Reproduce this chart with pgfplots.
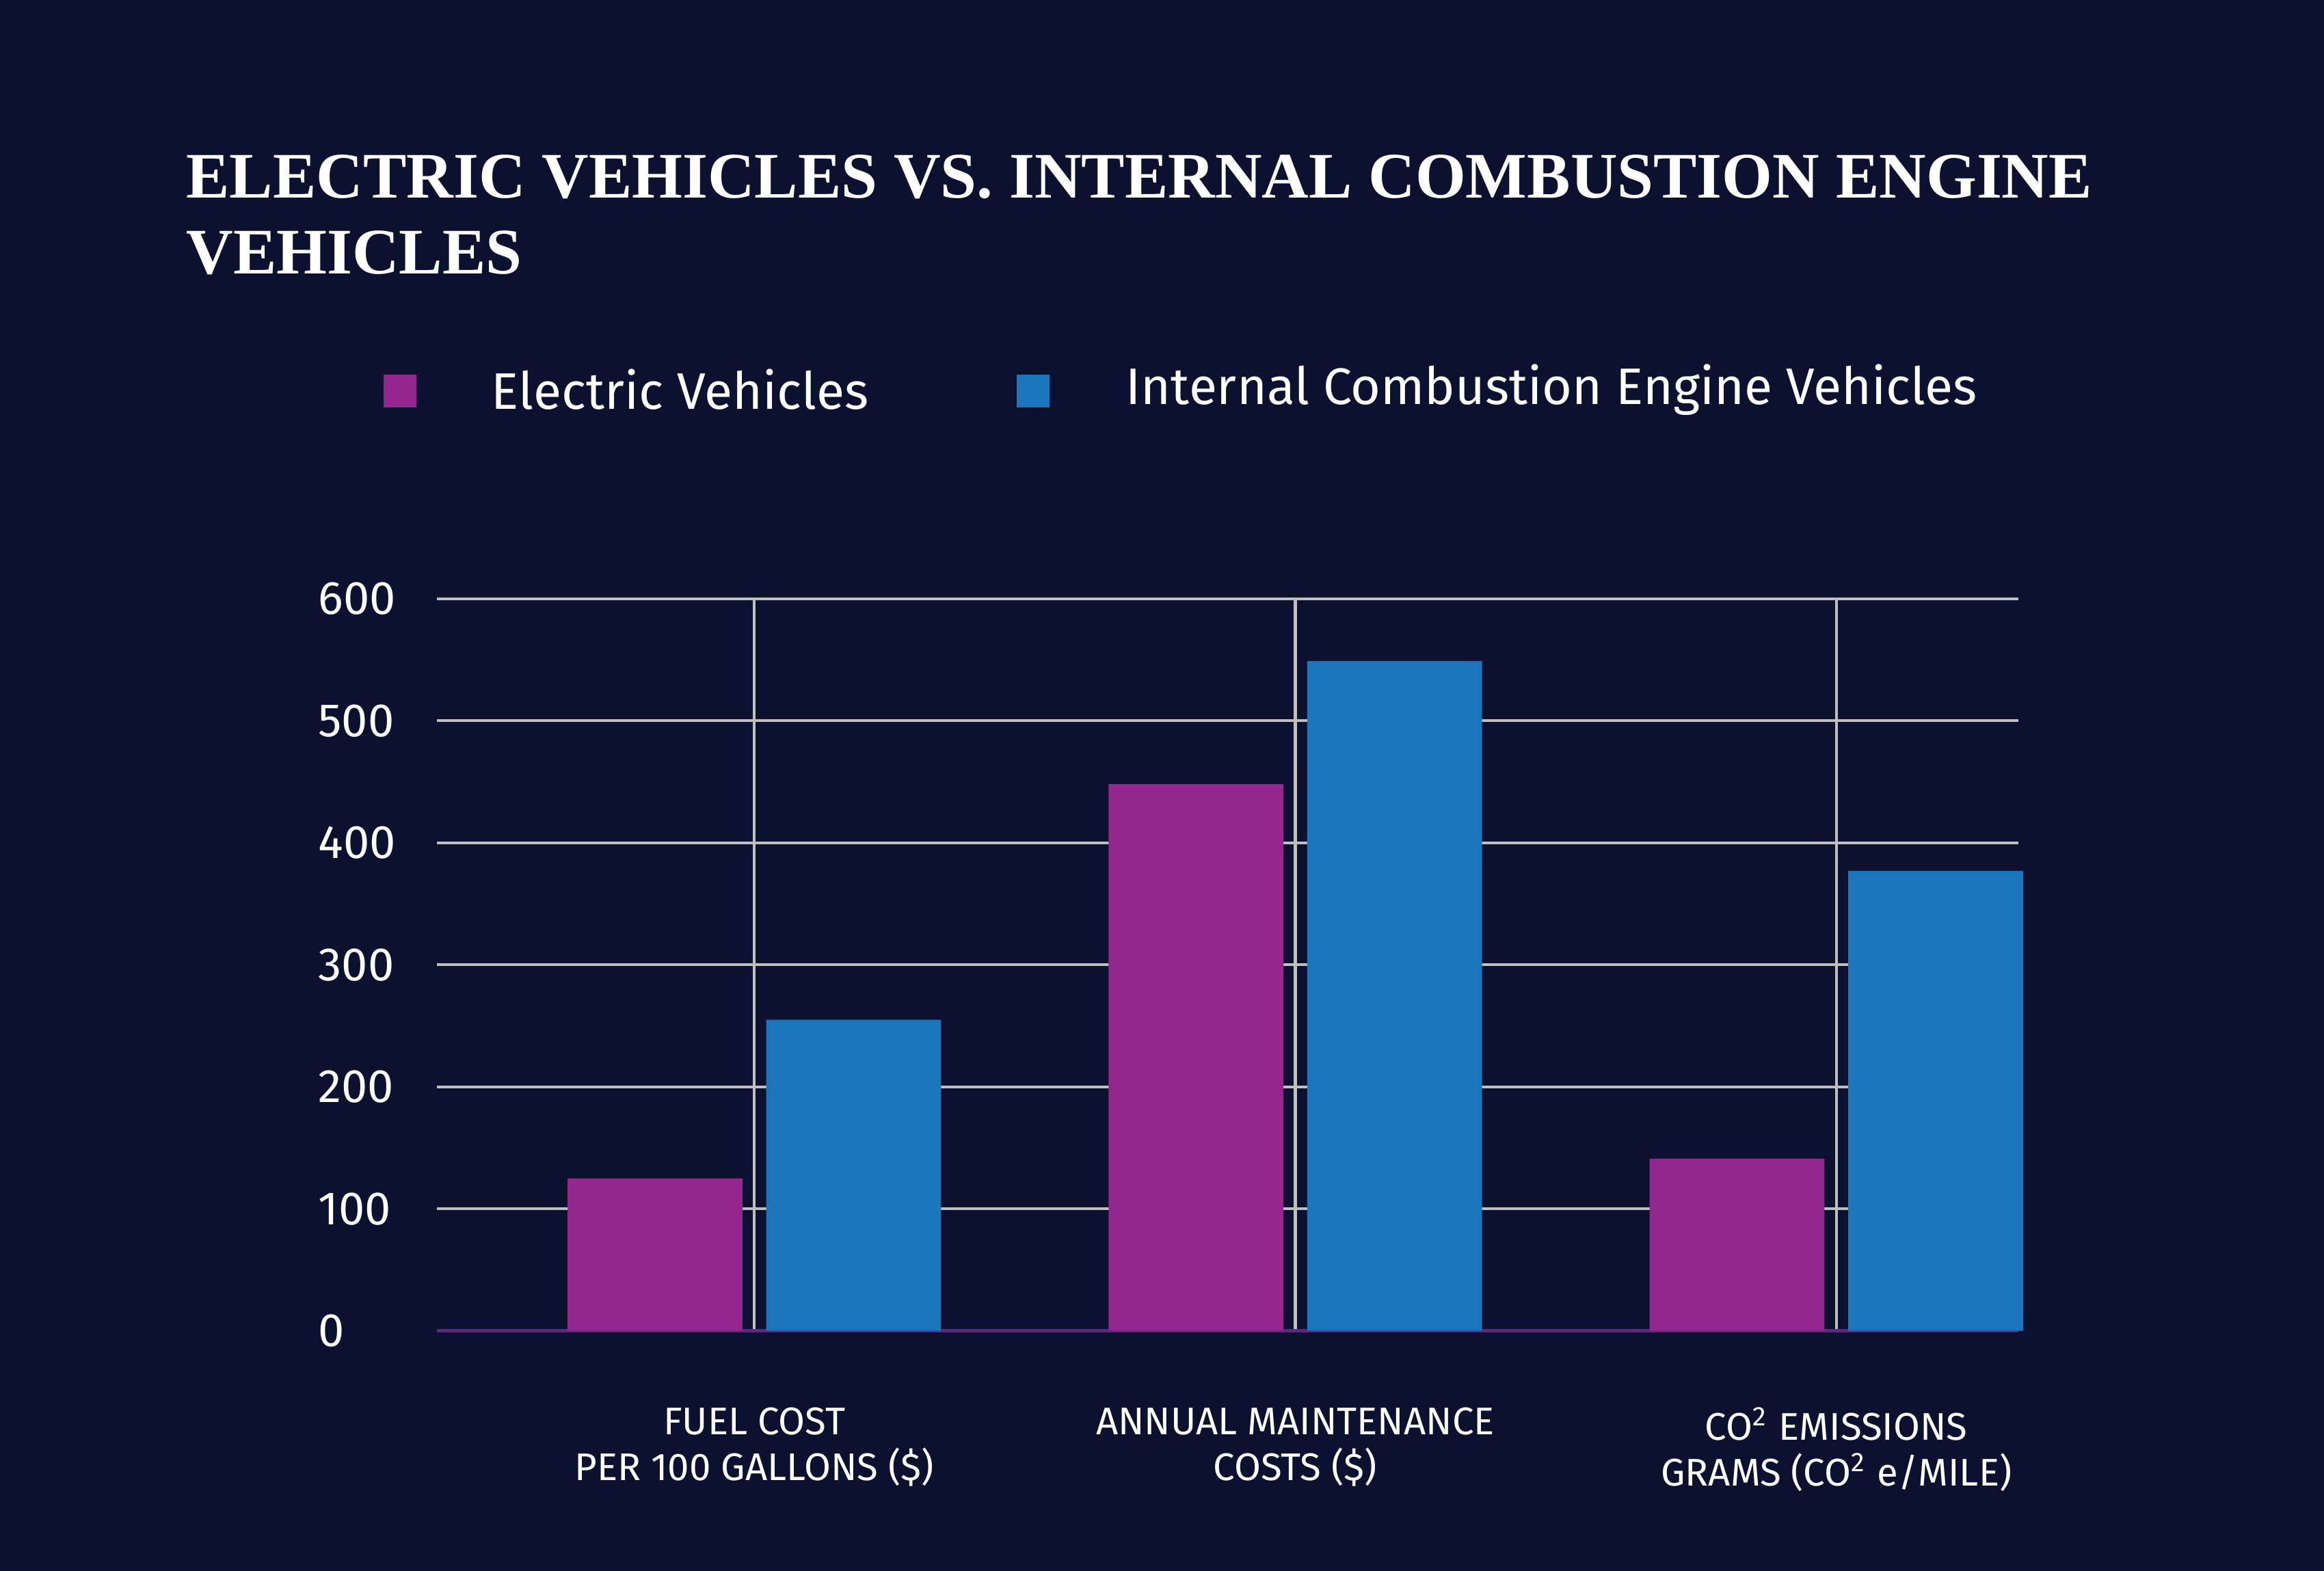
\documentclass[border=0pt]{standalone}
\usepackage{pgfplots}
\pgfplotsset{compat=1.18}
\usepackage{fontspec}
\setmainfont{Fira Sans}
\newfontfamily\titlefont{Liberation Serif}
\definecolor{bg}{HTML}{0D1130}
\definecolor{ev}{HTML}{93278F}
\definecolor{ice}{HTML}{1B75BB}
\definecolor{grid}{HTML}{5A2A7A}
\begin{document}
\begin{tikzpicture}
\begin{scope}[x=0.3pt,y=0.3pt]
\fill[bg] (0,0) rectangle (1568,1060);
\useasboundingbox (0,0) rectangle (1568,1060);
\node[anchor=north west,text=white,font=\titlefont\bfseries\fontsize{13.15}{15.3}\selectfont,align=left,inner sep=0pt] at (125,1060-104) {ELECTRIC VEHICLES VS. INTERNAL COMBUSTION ENGINE\\VEHICLES};
\fill[ev] (259,1060-253) rectangle (281,1060-275);
\fill[ice] (686,1060-253) rectangle (708,1060-275);
\node[anchor=west,text=white,font=\fontsize{10.4}{12}\selectfont,inner sep=0pt] at (331,1060-263) {Electric Vehicles};
\node[anchor=west,text=white,font=\fontsize{10.4}{12}\selectfont,inner sep=0pt] at (759,1060-263) {Internal Combustion Engine Vehicles};
\end{scope}
\begin{axis}[at={(88.5pt,48.6pt)},anchor=south west,scale only axis,
 width=320.1pt,height=148.2pt,
 xmin=-0.586,xmax=2.337,ymin=0,ymax=600,
 axis x line=bottom, axis y line=left,
 y axis line style={draw=none}, x axis line style={grid,line width=0.6pt,-},
 ytick={0,100,...,600},
 ymajorgrids,grid style={grid,line width=0.6pt},
 major tick length=0pt,
 xtick={0,1,2},
 xticklabels={{FUEL COST\\PER 100 GALLONS (\$)},{ANNUAL MAINTENANCE\\COSTS (\$)},{CO\textsuperscript{2} EMISSIONS\\GRAMS (CO\textsuperscript{2} e/MILE)}},
 xticklabel style={align=center,text=white,font=\fontsize{7.8}{9.3}\selectfont,anchor=north,yshift=-12pt},
 yticklabel style={anchor=west,text=white,font=\fontsize{9.5}{11}\selectfont,xshift=-27.6pt},
 /pgf/number format/assume math mode=true,
 ybar, bar width=35.4pt, clip=false]
\addplot[fill=ev,draw=none,bar shift=-20.1pt] coordinates {(0,125) (1,448) (2,141)};
\addplot[fill=ice,draw=none,bar shift=20.1pt] coordinates {(0,255) (1,549) (2,377)};
\end{axis}
\end{tikzpicture}
\end{document}
